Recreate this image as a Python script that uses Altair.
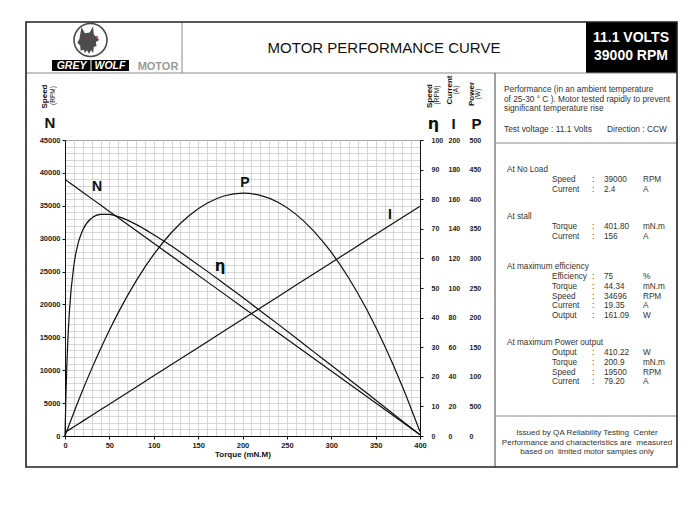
import altair as alt
import pandas as pd

# ---------------- data ----------------
torque = [0, 1, 2, 3, 5, 10, 15, 20, 30, 40, 50, 60, 80, 100, 120, 140, 160, 180,
          200, 220, 240, 260, 280, 300, 320, 340, 360, 380, 400]
speed = [39000, 38903, 38806, 38709, 38515, 38029, 37544, 37059, 36088, 35117, 34147,
         33176, 31235, 29294, 27352, 25411, 23470, 21529, 19587, 17646, 15705, 13764,
         11822, 9881, 7940, 5999, 4057, 2116, 175]
current = [2.4, 2.78, 3.16, 3.55, 4.31, 6.22, 8.13, 10.05, 13.87, 17.69, 21.51, 25.34,
           32.98, 40.63, 48.27, 55.92, 63.56, 71.21, 78.86, 86.50, 94.15, 101.79,
           109.44, 117.08, 124.73, 132.38, 140.02, 147.67, 155.31]
power = [0, 4.07, 8.13, 12.16, 20.17, 39.82, 58.97, 77.62, 113.37, 147.10, 178.79,
         208.45, 261.67, 306.77, 343.72, 372.55, 393.24, 405.81, 410.23, 406.53, 394.71,
         374.76, 346.64, 310.42, 266.07, 213.59, 152.95, 84.20, 7.33]
efficiency = [0, 13.2, 23.2, 30.9, 42.2, 57.7, 65.3, 69.6, 73.6, 74.9, 74.9, 74.1,
              71.5, 68.0, 64.2, 60.0, 55.7, 51.3, 46.9, 42.3, 37.8, 33.2, 28.5, 23.9,
              19.2, 14.5, 9.8, 5.1, 0.4]

torque_ticks = [0, 50, 100, 150, 200, 250, 300, 350, 400]
speed_ticks = [0, 5000, 10000, 15000, 20000, 25000, 30000, 35000, 40000, 45000]
eff_ticks = [0, 10, 20, 30, 40, 50, 60, 70, 80, 90, 100]
current_ticks = [0, 20, 40, 60, 80, 100, 120, 140, 160, 180, 200]
power_ticks = [0, 50, 100, 150, 200, 250, 300, 350, 400, 450, 500]

title_text = "MOTOR PERFORMANCE CURVE"
badge_lines = ["11.1 VOLTS", "39000 RPM"]
intro_lines = ["Performance (in an ambient temperature",
               " of 25-30 \u00b0 C ). Motor tested rapidly to prevent",
               "significant temperature rise"]
test_voltage = "Test voltage : 11.1 Volts"
direction = "Direction : CCW"
sections = [
    ("At No Load", [("Speed", "39000", "RPM"), ("Current", "2.4", "A")]),
    ("At stall", [("Torque", "401.80", "mN.m"), ("Current", "156", "A")]),
    ("At maximum efficiency", [("Efficiency", "75", "%"), ("Torque", "44.34", "mN.m"),
                               ("Speed", "34696", "RPM"), ("Current", "19.35", "A"),
                               ("Output", "161.09", "W")]),
    ("At maximum Power output", [("Output", "410.22", "W"), ("Torque", "200.9", "mN.m"),
                                 ("Speed", "19500", "RPM"), ("Current", "79.20", "A")]),
]
footer_lines = ["Issued by QA Reliability Testing\u00a0 Center",
                "Performance and characteristics are\u00a0 measured",
                "based on\u00a0 limited motor samples only"]

df = pd.DataFrame({"torque": torque, "speed": speed, "current": current,
                   "power": power, "efficiency": efficiency})

# ---------------- layout ----------------
W, H = 355, 296          # plot area
OX, OY = 65, 140         # plot origin on the page
FONT = "Liberation Sans"
one = alt.Data(values=[{}])
layers = []


def txt(X, Y, s, size=8.4, weight="normal", color="#333", align="left",
        baseline="middle", angle=0, style="normal", font=FONT):
    kw = dict(text=s, fontSize=size, fontWeight=weight, color=color, align=align,
              baseline=baseline, font=font, fontStyle=style)
    if angle:
        kw["angle"] = angle
    layers.append(alt.Chart(one).mark_text(**kw).encode(
        x=alt.value(X - OX), y=alt.value(Y - OY)))


def rule(X1, Y1, X2, Y2, color="#222", width=1.0):
    layers.append(alt.Chart(one).mark_rule(color=color, strokeWidth=width).encode(
        x=alt.value(X1 - OX), x2=alt.value(X2 - OX),
        y=alt.value(Y1 - OY), y2=alt.value(Y2 - OY)))


def rect(X1, Y1, X2, Y2, fill=None, stroke=None, width=1.0):
    kw = {}
    if fill:
        kw["fill"] = fill
    else:
        kw["fillOpacity"] = 0
    if stroke:
        kw["stroke"] = stroke
        kw["strokeWidth"] = width
    layers.append(alt.Chart(one).mark_rect(**kw).encode(
        x=alt.value(X1 - OX), x2=alt.value(X2 - OX),
        y=alt.value(Y1 - OY), y2=alt.value(Y2 - OY)))


# frame
rect(586, 22, 677, 73, fill="#000000")
rule(26, 73, 677, 73, color="#8a8a8a", width=1)
rule(182, 22, 182, 73, color="#8a8a8a", width=1)
rule(495, 73, 495, 467, color="#444", width=1)
rule(495, 143, 677, 143, color="#8a8a8a", width=1)
rule(495, 416, 677, 416, color="#8a8a8a", width=1)
rect(26, 22, 677, 467, stroke="#222", width=1.6)

# logo
layers.append(alt.Chart(one).mark_point(shape="circle", size=1089, filled=True,
                                         fill="white", stroke="black", strokeWidth=1.6).encode(
    x=alt.value(90.5 - OX), y=alt.value(40 - OY)))
wolf = ("M -0.55 -0.95 L -0.3 -0.5 L 0.05 -0.55 L 0.3 -1 L 0.35 -0.4 L 0.75 0.0 "
        "L 0.5 0.15 L 0.55 0.45 L 0.35 0.5 L 0.3 0.95 L 0.15 0.75 L 0.0 1.0 L -0.15 0.75 "
        "L -0.3 0.95 L -0.4 0.7 L -0.6 0.8 L -0.65 0.4 L -0.85 0.2 L -0.7 -0.1 Z")
layers.append(alt.Chart(one).mark_point(shape=wolf, size=750, filled=True, fill="black",
                                         strokeWidth=0).encode(
    x=alt.value(89 - OX), y=alt.value(40 - OY)))
layers.append(alt.Chart(one).mark_point(shape="circle", size=6, filled=True, fill="#c0282d",
                                         strokeWidth=0).encode(
    x=alt.value(87 - OX), y=alt.value(38 - OY)))
layers.append(alt.Chart(one).mark_point(shape="circle", size=6, filled=True, fill="#c0282d",
                                         strokeWidth=0).encode(
    x=alt.value(97 - OX), y=alt.value(37 - OY)))
rect(52, 60, 129, 71, fill="#000000")
rule(91, 60, 91, 71, color="white", width=1)
txt(71.5, 65.8, "GREY", size=10.5, weight="bold", color="white", align="center", style="italic")
txt(110, 65.8, "WOLF", size=10.5, weight="bold", color="white", align="center", style="italic")
txt(158, 67, "MOTOR", size=11, weight="bold", color="#9a9a9a", align="center")

# header texts
txt(384, 48, title_text, size=15, color="#111", align="center")
txt(631, 38, badge_lines[0], size=14, weight="bold", color="white", align="center")
txt(631, 56, badge_lines[1], size=14, weight="bold", color="white", align="center")

# axis headers
txt(45, 96.5, "Speed", size=8, weight="bold", color="#111", align="center", angle=270)
txt(52.5, 95.5, "(RPM)", size=6.5, color="#111", align="center", angle=270)
txt(50, 123, "N", size=15, weight="bold", color="#111", align="center")
txt(430, 96, "Speed", size=8, weight="bold", color="#111", align="center", angle=270)
txt(436.5, 95, "(RPM)", size=6.5, color="#111", align="center", angle=270)
txt(449.5, 90, "Current", size=8, weight="bold", color="#111", align="center", angle=270)
txt(455.5, 90, "(A)", size=6.5, color="#111", align="center", angle=270)
txt(471.5, 94, "Power", size=8, weight="bold", color="#111", align="center", angle=270)
txt(477.5, 94, "(W)", size=6.5, color="#111", align="center", angle=270)
txt(433.5, 124, "\u03b7", size=16, weight="bold", color="#111", align="center", font="DejaVu Sans")
txt(453.5, 124, "I", size=15, weight="bold", color="#111", align="center")
txt(476.5, 124, "P", size=15, weight="bold", color="#111", align="center")

# curve labels
txt(97, 187, "N", size=14, weight="bold", color="#111", align="center")
txt(245, 183, "P", size=14, weight="bold", color="#111", align="center")
txt(220, 266, "\u03b7", size=15, weight="bold", color="#111", align="center", font="DejaVu Sans")
txt(390, 215, "I", size=14, weight="bold", color="#111", align="center")

# right panel
for i, line in enumerate(intro_lines):
    txt(504, 90 + 9.7 * i, line, size=8.3)
txt(504, 129, test_voltage)
txt(667, 129, direction, align="right")
section_y = [170, 217, 267, 343]
for (head, rows), y0 in zip(sections, section_y):
    txt(507, y0, head, size=8.2)
    for j, (lab, val, unit) in enumerate(rows):
        yy = y0 + 10.2 + 9.7 * j
        txt(552, yy, lab, size=8.2)
        txt(592, yy, ":", size=8.2)
        txt(604, yy, val, size=8.2)
        txt(643, yy, unit, size=8.2)
for i, line in enumerate(footer_lines):
    txt(587, 433 + 9.6 * i, line, align="center", size=8.1)

# ---------------- plot ----------------
xs = alt.Scale(domain=[0, 400], nice=False, zero=False)
lab = dict(labelFont=FONT, labelFontWeight="bold", labelColor="#222",
           labelFlush=False, labelOverlap=False, format="d")

grid = alt.Chart(df).mark_line(opacity=0).encode(
    x=alt.X("torque:Q", scale=xs,
            axis=alt.Axis(values=list(range(0, 401, 10)), grid=True, gridColor="#cdcdcd",
                          gridWidth=0.8, labels=False, ticks=False, domain=False, title=None,
                          orient="bottom")),
    y=alt.Y("speed:Q", scale=alt.Scale(domain=[0, 45000], nice=False),
            axis=alt.Axis(values=list(range(0, 45001, 1000)), grid=True, gridColor="#cdcdcd",
                          gridWidth=0.8, labels=False, ticks=False, domain=False, title=None,
                          orient="left")))

n_line = alt.Chart(df).mark_line(color="#111", strokeWidth=1.2).encode(
    x=alt.X("torque:Q", scale=xs,
            axis=alt.Axis(values=torque_ticks, grid=False, title="Torque (mN.M)",
                          orient="bottom",
                          titleFont=FONT, titleFontSize=8, titleFontWeight="bold",
                          titleColor="#111", titlePadding=2, labelFontSize=7.5,
                          labelPadding=2, tickSize=3, tickColor="#111",
                          domainColor="#111", **lab)),
    y=alt.Y("speed:Q", scale=alt.Scale(domain=[0, 45000], nice=False),
            axis=alt.Axis(values=speed_ticks, grid=False, title=None, orient="left",
                          labelFontSize=7.5, labelPadding=2, tickSize=3, tickColor="#111",
                          domainColor="#111", **lab)))

eta_line = alt.Chart(df).mark_line(color="#111", strokeWidth=1.2, interpolate="monotone").encode(
    x=alt.X("torque:Q", scale=xs, axis=None),
    y=alt.Y("efficiency:Q", scale=alt.Scale(domain=[0, 100], nice=False),
            axis=alt.Axis(values=eff_ticks, grid=False, title=None, orient="right",
                          labelFontSize=7, labelPadding=8, tickSize=3, tickColor="#111",
                          domainColor="#111", **lab)))

i_line = alt.Chart(df).mark_line(color="#111", strokeWidth=1.2).encode(
    x=alt.X("torque:Q", scale=xs, axis=None),
    y=alt.Y("current:Q", scale=alt.Scale(domain=[0, 200], nice=False),
            axis=alt.Axis(values=current_ticks, grid=False, title=None, orient="right",
                          offset=25, labelFontSize=7, labelPadding=3, ticks=False,
                          tickSize=0, domain=False, **lab)))

p_line = alt.Chart(df).mark_line(color="#111", strokeWidth=1.2, interpolate="monotone").encode(
    x=alt.X("torque:Q", scale=xs, axis=None),
    y=alt.Y("power:Q", scale=alt.Scale(domain=[0, 500], nice=False),
            axis=alt.Axis(values=power_ticks, grid=False, title=None, orient="right",
                          offset=46, labelFontSize=7, labelPadding=3, ticks=False,
                          tickSize=0, domain=False,
                          labelExpr="datum.value == 50 ? '500' : datum.label", **lab)))

chart = alt.layer(grid, n_line, eta_line, i_line, p_line, *layers).resolve_scale(
    x="independent", y="independent"
).properties(
    width=W, height=H,
    autosize=alt.AutoSizeParams(type="none"),
    padding={"left": OX - 8, "top": OY - 8, "right": 684 - (OX - 8) - W,
             "bottom": 500 - (OY - 8) - H},
    background="white",
).configure_view(stroke="#111", strokeWidth=1)

chart.save("out.html", embed_options={"renderer": "svg", "actions": False})
